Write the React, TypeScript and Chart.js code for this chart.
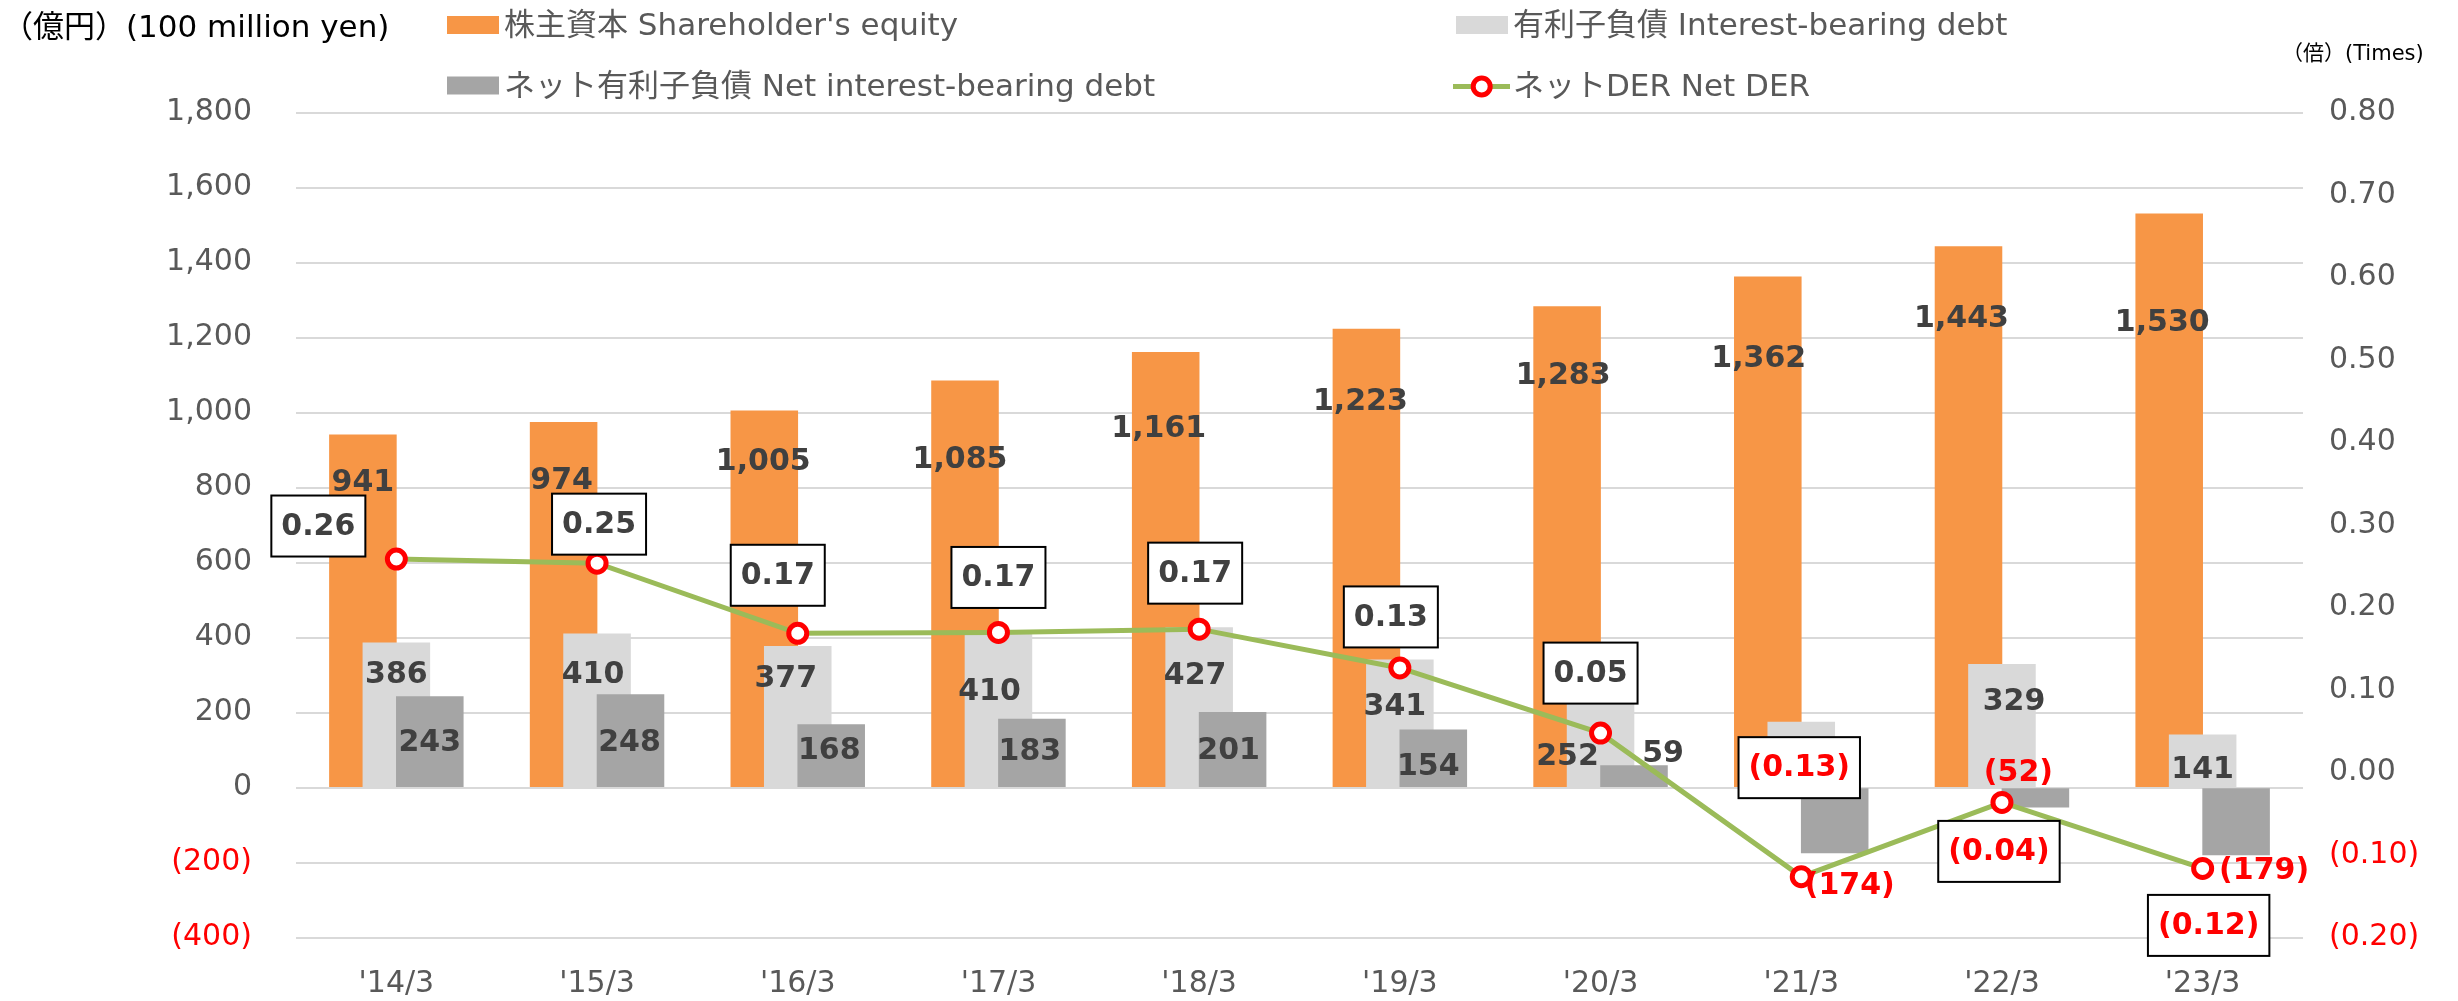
import React, { useEffect, useRef } from "react";
import { Chart, registerables } from "chart.js";

Chart.register(...registerables);

// ---- data ----
const categories = ["'14/3", "'15/3", "'16/3", "'17/3", "'18/3", "'19/3", "'20/3", "'21/3", "'22/3", "'23/3"];
const equity = [941, 974, 1005, 1085, 1161, 1223, 1283, 1362, 1443, 1530];
const debt = [386, 410, 377, 410, 427, 341, 252, 175, 329, 141];
const netDebt = [243, 248, 168, 183, 201, 154, 59, -174, -52, -179];
const netDER = [0.259, 0.254, 0.169, 0.17, 0.174, 0.127, 0.048, -0.126, -0.036, -0.116];
const leftTicks = { min: -400, max: 1800, step: 200 };
const rightTicks = { min: -0.2, max: 0.8, step: 0.1 };

const legendLabels = [
  "株主資本 Shareholder's equity",
  "有利子負債 Interest-bearing debt",
  "ネット有利子負債 Net interest-bearing debt",
  "ネットDER Net DER",
];
const leftTitle = "（億円）(100 million yen)";
const rightTitle = "（倍）(Times)";

// ---- label nudges (layout, px) ----
const equityLabelShift = [[0, 48], [-2, 59], [-1, 51], [-5, 79], [-7, 77], [-6, 73], [-4, 70], [-9, 82], [-7, 73], [-7, 109]];
const debtLabelShift = [[0, 32], [-4, 41], [-12, 33], [-9, 58], [-4, 49], [-5, 47], [-33, 64], [0, 40], [12, 38], [0, 35]];
const netLabelShift = [[0, 47], [-1, 49], [-2, 27], [-2, 33], [-4, 39], [-5, 37], [29, -11], [15, 33], [-17, -34], [28, 16]];
const derBoxShift = [[-78, -33], [2, -39], [-20, -58], [0, -55], [-4, -56], [-9, -51], [-10, -60], [-2, -109], [-3, 49], [6, 57]];

// ---- styles ----
const ORANGE = "#F79646";
const LIGHT = "#D9D9D9";
const DARK = "#A5A5A5";
const GREEN = "#9BBB59";
const RED = "#FF0000";
const TICK = "#595959";
const LABEL = "#404040";
const FONT = "'DejaVu Sans', 'Noto Sans CJK JP', sans-serif";

const W = 2458;
const H = 1001;
const AREA = { left: 296, right: 2303, top: 112.7, bottom: 937.7 };

const fmtInt = (n: number) => {
  const s = Math.abs(n).toLocaleString("en-US");
  return n < 0 ? `(${s})` : s;
};
const fmtDec = (n: number) => {
  const r = Math.round(n * 100) / 100;
  const s = Math.abs(r).toFixed(2);
  return r < 0 ? `(${s})` : s;
};

const overlayPlugin = {
  id: "overlay",
  beforeDatasetsDraw(chart: any) {
    // draw bars in index order so later series sit on top
    chart.data.datasets.forEach((ds: any, i: number) => {
      if (ds.type === "bar") {
        const meta = chart.getDatasetMeta(i);
        if (meta.visible !== false) meta.controller.draw();
      }
    });
  },
  beforeDatasetDraw(chart: any, args: any) {
    if (args.meta.type === "bar") return false;
    return true;
  },
  afterDatasetsDraw(chart: any) {
    const ctx = chart.ctx;
    ctx.save();
    ctx.textAlign = "center";
    ctx.textBaseline = "middle";
    ctx.font = `bold 30px ${FONT}`;
    const barLabels = (dsIndex: number, values: number[], shifts: number[][]) => {
      const meta = chart.getDatasetMeta(dsIndex);
      meta.data.forEach((el: any, i: number) => {
        const v = values[i];
        ctx.fillStyle = v < 0 ? RED : LABEL;
        ctx.fillText(fmtInt(v), el.x + shifts[i][0], el.y + shifts[i][1]);
      });
    };
    barLabels(0, equity, equityLabelShift);
    barLabels(1, debt, debtLabelShift);
    barLabels(2, netDebt, netLabelShift);

    const lineMeta = chart.getDatasetMeta(3);
    lineMeta.data.forEach((el: any, i: number) => {
      const v = netDER[i];
      const text = fmtDec(v);
      const cx = el.x + derBoxShift[i][0];
      const cy = el.y + derBoxShift[i][1];
      const tw = ctx.measureText(text).width;
      const bw = tw + 20;
      const bh = 61;
      ctx.fillStyle = "#FFFFFF";
      ctx.fillRect(cx - bw / 2, cy - bh / 2, bw, bh);
      ctx.strokeStyle = "#000000";
      ctx.lineWidth = 2;
      ctx.strokeRect(cx - bw / 2, cy - bh / 2, bw, bh);
      ctx.fillStyle = v < 0 ? RED : LABEL;
      ctx.fillText(text, cx, cy + 1);
    });
    ctx.restore();
  },
  afterDraw(chart: any) {
    const ctx = chart.ctx;
    ctx.save();
    ctx.textBaseline = "middle";
    ctx.textAlign = "left";
    // titles
    ctx.fillStyle = "#000000";
    ctx.font = `31px ${FONT}`;
    ctx.fillText(leftTitle, 2, 29);
    ctx.font = `21px ${FONT}`;
    ctx.fillText(rightTitle, 2282, 55);

    // legend
    ctx.font = `31px ${FONT}`;
    const sq = (x: number, y: number, color: string) => {
      ctx.fillStyle = color;
      ctx.fillRect(x, y - 9, 52, 18);
    };
    sq(447, 25, ORANGE);
    sq(1456, 25, LIGHT);
    sq(447, 85.5, DARK);
    ctx.strokeStyle = GREEN;
    ctx.lineWidth = 5;
    ctx.beginPath();
    ctx.moveTo(1453, 86.5);
    ctx.lineTo(1510, 86.5);
    ctx.stroke();
    ctx.beginPath();
    ctx.arc(1481.7, 86.5, 8.5, 0, Math.PI * 2);
    ctx.fillStyle = "#FFFFFF";
    ctx.fill();
    ctx.strokeStyle = RED;
    ctx.lineWidth = 5;
    ctx.stroke();

    ctx.fillStyle = TICK;
    ctx.fillText(legendLabels[0], 504, 27);
    ctx.fillText(legendLabels[1], 1513, 27);
    ctx.fillText(legendLabels[2], 504, 88);
    ctx.fillText(legendLabels[3], 1513, 88);
    ctx.restore();
  },
};

export default function App() {
  const ref = useRef<HTMLCanvasElement>(null);
  useEffect(() => {
    document.body.style.margin = "0";
    const canvas = ref.current;
    if (!canvas) return;
    const chart = new Chart(canvas, {
      type: "bar",
      data: {
        labels: categories,
        datasets: [
          { type: "bar", label: legendLabels[0], data: equity, backgroundColor: ORANGE, borderWidth: 0, yAxisID: "y" },
          { type: "bar", label: legendLabels[1], data: debt, backgroundColor: LIGHT, borderWidth: 0, yAxisID: "y" },
          { type: "bar", label: legendLabels[2], data: netDebt, backgroundColor: DARK, borderWidth: 0, yAxisID: "y" },
          {
            type: "line",
            label: legendLabels[3],
            data: netDER,
            yAxisID: "y1",
            order: -1,
            borderColor: GREEN,
            borderWidth: 5,
            pointRadius: 9,
            pointBorderWidth: 5,
            pointBackgroundColor: "#FFFFFF",
            pointBorderColor: RED,
            tension: 0,
            fill: false,
          } as any,
        ],
      },
      options: {
        responsive: false,
        animation: false,
        devicePixelRatio: 1,
        layout: { padding: { top: AREA.top, left: 0, right: 0, bottom: 0 } },
        datasets: {
          bar: { categoryPercentage: 0.5, barPercentage: 2 },
        },
        plugins: {
          legend: { display: false },
          tooltip: { enabled: false },
          title: { display: false },
        },
        scales: {
          x: {
            type: "category",
            grid: { display: false, drawTicks: false },
            border: { display: false },
            ticks: {
              color: TICK,
              font: { family: FONT, size: 30 },
              padding: 29,
              autoSkip: false,
              maxRotation: 0,
            },
            afterFit: (s: any) => {
              s.height = H - AREA.bottom;
            },
          },
          y: {
            type: "linear",
            position: "left",
            min: leftTicks.min,
            max: leftTicks.max,
            grid: { color: LIGHT, lineWidth: 2, drawTicks: false },
            border: { display: false },
            ticks: {
              stepSize: leftTicks.step,
              color: (c: any) => (c.tick && c.tick.value < 0 ? RED : TICK),
              font: { family: FONT, size: 30 },
              padding: 44,
              callback: (v: any) => fmtInt(Number(v)),
            },
            afterFit: (s: any) => {
              s.width = AREA.left;
            },
          },
          y1: {
            type: "linear",
            position: "right",
            min: rightTicks.min,
            max: rightTicks.max,
            grid: { display: false, drawTicks: false },
            border: { display: false },
            ticks: {
              stepSize: rightTicks.step,
              color: (c: any) => (c.tick && c.tick.value < -0.001 ? RED : TICK),
              font: { family: FONT, size: 30 },
              padding: 26,
              callback: (v: any) => fmtDec(Number(v)),
            },
            afterFit: (s: any) => {
              s.width = W - AREA.right;
            },
          },
        },
      } as any,
      plugins: [overlayPlugin],
    });
    return () => chart.destroy();
  }, []);
  return (
    <div style={{ position: "absolute", left: 0, top: 0, width: W, height: H, background: "#FFFFFF" }}>
      <canvas ref={ref} width={W} height={H} style={{ display: "block", width: W, height: H }} />
    </div>
  );
}
